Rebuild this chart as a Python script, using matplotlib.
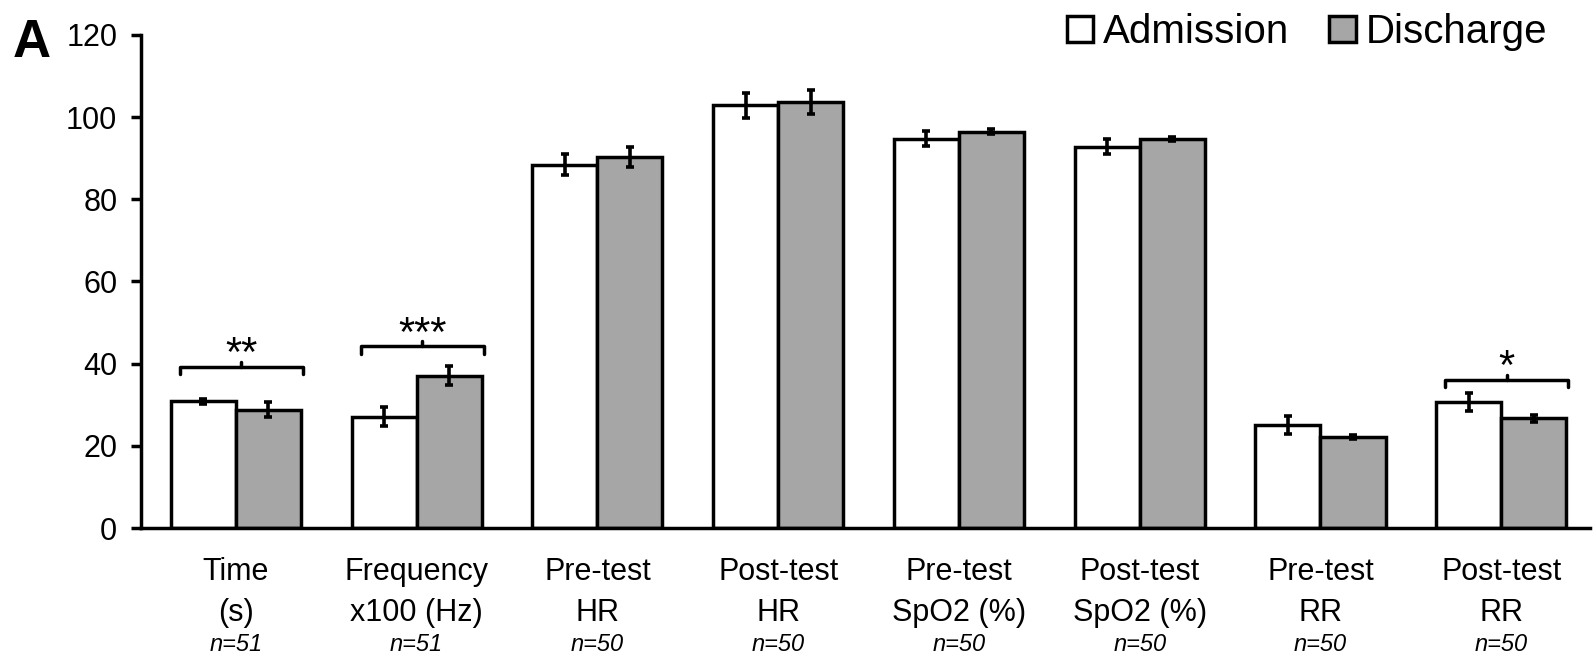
import matplotlib
matplotlib.use("Agg")
import matplotlib.pyplot as plt
import numpy as np
from matplotlib.patches import Patch

plt.rcParams["font.family"] = ["Liberation Sans", "DejaVu Sans"]

# ── data ─────────────────────────────────────────────────────────────────────
categories = ["Time\n(s)", "Frequency\nx100 (Hz)", "Pre-test\nHR", "Post-test\nHR",
              "Pre-test\nSpO2 (%)", "Post-test\nSpO2 (%)", "Pre-test\nRR", "Post-test\nRR"]
n_labels = ["n=51", "n=51", "n=50", "n=50", "n=50", "n=50", "n=50", "n=50"]
admission = [30.8, 27.1, 88.4, 102.9, 94.8, 92.8, 25.0, 30.7]
admission_err = [0.5, 2.3, 2.6, 3.0, 1.75, 1.8, 2.2, 2.2]
discharge = [28.8, 37.1, 90.3, 103.6, 96.5, 94.7, 22.1, 26.7]
discharge_err = [1.8, 2.3, 2.5, 2.9, 0.5, 0.5, 0.5, 0.8]
# significance brackets: (group index, bracket height, stars)
sig_groups = [0, 1, 7]
sig_heights = [39.3, 44.2, 36.1]
sig_stars = ["**", "***", "*"]

fig = plt.figure(figsize=(15.93, 6.6), dpi=100)
ax = fig.add_axes([0.0885, 0.2, 0.9095, 0.747])

x = np.arange(len(categories))
w = 0.36
ekw = dict(ecolor="black", elinewidth=2.6, capsize=3.2, capthick=2.6)
ax.bar(x - w / 2, admission, w, yerr=admission_err, color="white",
       edgecolor="black", linewidth=2.5, error_kw=ekw, zorder=2)
ax.bar(x + w / 2, discharge, w, yerr=discharge_err, color="#a6a6a6",
       edgecolor="black", linewidth=2.5, error_kw=ekw, zorder=2)

# brackets with stars
for g, h, s in zip(sig_groups, sig_heights, sig_stars):
    l, r = g - 0.31, g + 0.37
    c = (l + r) / 2
    ax.plot([l, l, r, r], [h - 1.8, h, h, h - 1.8], color="black", lw=2.5,
            solid_joinstyle="round", solid_capstyle="round")
    ax.plot([c, c], [h, h + 1.2], color="black", lw=2.5, solid_capstyle="round")
    ax.text(c, h - 2.0, s, ha="center", va="bottom", fontsize=30)

ax.set_xlim(-0.525, 7.49)
ax.set_ylim(0, 120)
ax.set_yticks(range(0, 121, 20))
ax.set_xticks(x)
ax.set_xticklabels(categories, fontsize=22, linespacing=1.45)
ax.tick_params(axis="x", length=0, pad=21)
ax.tick_params(axis="y", labelsize=22, width=2.5, length=7, pad=10)
for side in ("top", "right"):
    ax.spines[side].set_visible(False)
for side in ("left", "bottom"):
    ax.spines[side].set_linewidth(2.5)

for xi, n in zip(x, n_labels):
    ax.text(xi, -0.237, n, transform=ax.get_xaxis_transform(), ha="center",
            va="center", fontsize=17, style="italic")

fig.text(0.008, 0.935, "A", fontsize=38, fontweight="bold", va="center")

handles = [Patch(facecolor="white", edgecolor="black", linewidth=2.5, label="Admission"),
           Patch(facecolor="#a6a6a6", edgecolor="black", linewidth=2.5, label="Discharge")]
fig.legend(handles=handles, loc="upper right", bbox_to_anchor=(0.994, 1.035), ncol=2,
           frameon=False, fontsize=29, handlelength=0.65, handleheight=0.65,
           handletextpad=0.25, columnspacing=1.0)

fig.savefig("out.png", dpi=100)
